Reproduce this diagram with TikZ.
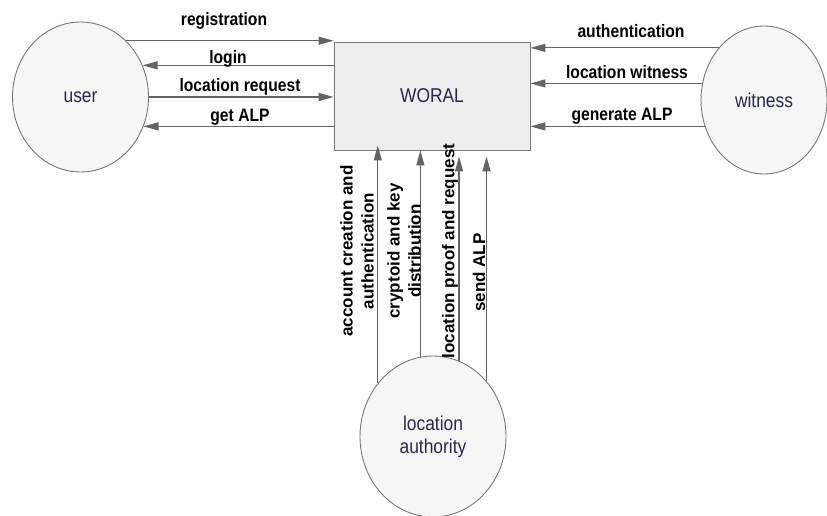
\documentclass[tikz,border=0pt]{standalone}
\usepackage{fontspec}
\setmainfont{Liberation Sans}
\newfontfamily\flowfont[FakeStretch=0.87]{Liberation Sans}
\usetikzlibrary{shapes.geometric,arrows.meta}

\definecolor{edgegray}{RGB}{120,120,120}
\definecolor{flowgray}{RGB}{100,100,100}
\definecolor{bubblefill}{RGB}{246,246,246}
\definecolor{boxfill}{RGB}{238,238,238}
\definecolor{nodetext}{RGB}{40,40,80}

\begin{document}
\begin{tikzpicture}[x=1pt,y=-1pt,
  bubble/.style={ellipse, draw=edgegray, fill=bubblefill, line width=0.9pt,
    inner sep=0pt, text=nodetext, font=\flowfont\fontsize{20}{23}\selectfont,
    align=center},
  procbox/.style={rectangle, draw=edgegray, fill=boxfill, line width=0.9pt,
    minimum width=196pt, minimum height=108pt, text=nodetext,
    font=\flowfont\fontsize{20}{23}\selectfont},
  flow/.style={draw=flowgray, line width=1.2pt, -{Triangle[length=15pt,width=8pt]}},
  hlabel/.style={font=\flowfont\bfseries\fontsize{18}{20}\selectfont,
    anchor=base, inner sep=0pt},
  vlabel/.style={font=\bfseries\fontsize{17}{21}\selectfont, rotate=90,
    align=center, inner sep=0pt},
]
\useasboundingbox (0,0) rectangle (827,516);

% external entities and the central process
\node[bubble, minimum width=136pt, minimum height=150pt] (user) at (80.5,97) {user};
\node[procbox] (woral) at (432,96) {WORAL};
\node[bubble, minimum width=126pt, minimum height=148pt] (witness) at (764,100) {witness};
\node[bubble, minimum width=146pt, minimum height=161pt] (la) at (433,436.5)
  {location\\authority};

% user <-> WORAL
\draw[flow] (user.51) -- (user.51 -| woral.west);
\draw[flow] (user.27 -| woral.west) -- (user.27);
\draw[flow] (user.east) -- (user.east -| woral.west);
\draw[flow] (user.-25 -| woral.west) -- (user.-25);

\node[hlabel] (lreg) at (224,26) {registration};
\node[hlabel] (llogin) at (228,64) {login};
\node[hlabel] (lreq) at (240,92) {location request};
\node[hlabel] (lget) at (240,122) {get ALP};

% witness -> WORAL
\draw[flow] (witness.131) -- (witness.131 -| woral.east);
\draw[flow] (witness.165) -- (witness.165 -| woral.east);
\draw[flow] (witness.204) -- (witness.204 -| woral.east);

\node[hlabel] (lauth) at (631,38) {authentication};
\node[hlabel] (lwit) at (627,79) {location witness};
\node[hlabel] (lgen) at (622,121) {generate ALP};

% location authority -> WORAL
\draw[flow, shorten >=-5pt] (la.136) -- (la.136 |- woral.south);
\draw[flow] (la.99) -- (la.99 |- woral.south);
\draw[flow, shorten >=6pt] (la.71) -- (la.71 |- woral.south);
\draw[flow, shorten >=6pt] (la.46) -- (la.46 |- woral.south);

\node[vlabel] (lacc) at (357,251) {account creation and\\authentication};
\node[vlabel] (lkey) at (404,251) {cryptoid and key\\distribution};
\node[vlabel] (lproof) at (450,251) {location proof and request};
\node[vlabel] (lsend) at (479,272.5) {send ALP};
\end{tikzpicture}
\end{document}
